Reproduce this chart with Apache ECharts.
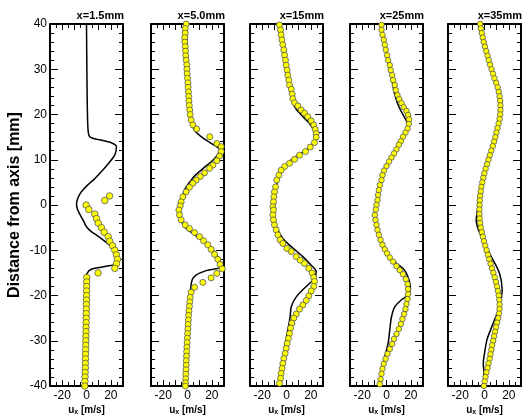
<!DOCTYPE html>
<html>
<head>
<meta charset="utf-8">
<script src="https://cdn.jsdelivr.net/npm/echarts@6/dist/echarts.min.js"></script>
<style>html,body{margin:0;padding:0;background:#fff}#chart{width:523px;height:420px}</style>
</head>
<body>
<div id="chart"></div>
<script>
// ---- data: [u_x (m/s), distance from axis (mm)] ----
const titles = ['x=1.5mm', 'x=5.0mm', 'x=15mm', 'x=25mm', 'x=35mm'];
const xTickLabels = [-20, 0, 20];

const p1Line = [[0,40],[0.3,30],[0.8,20],[1.5,16],[3,15],[11,14.4],[20,13.8],[24.6,12.9],[23.5,11.2],[20.5,10],[16,8.5],[11,7],[6,5.6],[1.3,4.5],[-3,3.3],[-5.5,2.4],[-7.5,1.2],[-8.2,0.2],[-7.5,-0.9],[-5,-2.3],[-2.5,-3.5],[0,-4.8],[4,-5.9],[8.5,-6.7],[13.6,-7.7],[20.5,-9.2],[24.6,-10.3],[25.2,-11.6],[24.6,-12.9],[15,-13.6],[4,-14.2],[0.3,-15.2],[-1,-17],[-1.4,-25],[-1.5,-40]];
const p1Pts = [[19,2],[15,1],[-0.3,0],[1.9,-1],[6.8,-2],[8.2,-3],[9.6,-4],[12.3,-5],[14.5,-6],[17.8,-7],[19.1,-8],[21.4,-9],[23.3,-10],[24.6,-11],[25.5,-12],[24.6,-13],[23.3,-14],[9.5,-15],[0.2,-16],[0.2,-17],[0.1,-18],[0.1,-19],[0,-20],[0,-21],[-0.1,-22],[-0.1,-23],[-0.2,-24],[-0.2,-25],[-0.3,-26],[-0.4,-27],[-0.4,-28],[-0.5,-29],[-0.6,-30],[-0.6,-31],[-0.7,-32],[-0.8,-33],[-0.8,-34],[-0.9,-35],[-1,-36],[-1.1,-37],[-1.2,-38],[-1.3,-39],[-1.4,-40]];

const p2Line = [[-1,40],[-0.5,35],[0.3,30],[1,25],[1.8,21],[2.8,18.8],[5.5,16.6],[11.2,15.1],[19.4,13.6],[26.3,12.2],[24.5,11],[20.8,9.9],[16,8.8],[11.2,7.7],[6.5,6.6],[3,5.5],[-2.5,3.3],[-4.6,1.1],[-6,-1.1],[-5.2,-3.3],[-2.5,-4.8],[4.4,-6.3],[10,-7.4],[15.3,-8.5],[22.2,-10.3],[25.5,-11.8],[27.7,-13.6],[15.3,-14.5],[7,-15.5],[3.8,-16.6],[2.5,-18.8],[1.1,-24.7],[-0.5,-32],[-1.9,-40]];
const p2Pts = [[-1.1,40],[-1.9,39],[-1.9,38],[-2.3,37],[-2.2,36],[-1.8,35],[-1.6,34],[-1.4,33],[-1.1,32],[-0.6,31],[-0.5,30],[-0.3,29],[0,28],[0.3,27],[0.5,26],[0.8,25],[1,24],[1.2,23],[1.5,22],[1.8,21],[2.2,20],[3,18.8],[4.4,17.7],[7.5,16.8],[18.3,15.1],[24.1,13.6],[27.7,12.9],[27.7,11.8],[26.3,10.8],[24.1,9.8],[20.8,8.8],[18.1,8.1],[14,7.1],[10.5,6.3],[7.1,5.5],[4.4,4.8],[1.6,3.9],[-1.1,2.9],[-3.8,1.8],[-5.2,0.7],[-6,-0.2],[-7.1,-1.1],[-6.6,-2.2],[-5.2,-3.3],[-1.9,-4.4],[1.6,-5.2],[5.8,-6.1],[9.9,-7],[13.2,-7.9],[16.7,-8.8],[19.4,-9.8],[22.2,-10.9],[24.9,-12],[26.8,-13.1],[28.5,-14.1],[24.1,-15.1],[19.4,-16.1],[12.6,-17.1],[5.8,-18.2],[3,-19.3],[2.2,-20.4],[1.9,-21.4],[1.6,-22.4],[1.2,-23.4],[0.9,-24.4],[0.7,-25.4],[0.5,-26.4],[0.3,-27.4],[0.1,-28.4],[-0.1,-29.4],[-0.3,-30.4],[-0.5,-31.4],[-0.7,-32.4],[-0.8,-33.4],[-1,-34.4],[-1.1,-35.4],[-1.2,-36.4],[-1.4,-37.4],[-1.5,-38.4],[-1.6,-39.3],[-1.7,-40]];

const p3Line = [[-5.5,40],[-3,34.3],[1.1,28.4],[3.9,24.7],[6.6,21.7],[12.1,19.9],[18.9,18],[23,16.2],[24.4,15.1],[21.6,13.6],[16.2,12.2],[9.3,11],[2.5,9.6],[-3,7.7],[-7.1,5.5],[-9,2.6],[-9.9,-1.1],[-9.9,-3.3],[-7.1,-5.5],[-3,-7.4],[3.9,-9.2],[13.4,-11.4],[20.3,-13.3],[24.4,-14.7],[23,-16.2],[16.2,-18],[8,-20.3],[3.9,-22.5],[3,-24.7],[1.1,-27.6],[-1.6,-32],[-4.4,-39.4],[-4.8,-40]];
const p3Pts = [[-5.8,39.8],[-4.9,38.7],[-4.4,37.6],[-3.8,36.5],[-3,35.4],[-2.2,34.3],[-1.6,33.1],[-0.8,32],[-0.3,30.9],[0.5,29.8],[1.1,28.7],[1.9,27.6],[2.5,26.5],[3.9,25.6],[4.7,24.5],[5.2,23.5],[6.6,22.6],[9.3,21.9],[12.1,21],[14.8,20.3],[17.5,19.5],[20.3,18.6],[22.4,17.7],[23.6,16.7],[24.4,15.8],[24.4,15],[23,13.8],[19.5,12.8],[15.6,11.8],[10.7,11],[6.6,10.1],[2.5,9.2],[-1.6,8.5],[-4.4,7.7],[-6.3,6.6],[-8,5.5],[-9,4],[-9.9,2.9],[-10.4,1.8],[-10.7,0.7],[-11.2,-0.4],[-10.7,-1.1],[-11.2,-2.2],[-10.7,-3.3],[-9.9,-4.4],[-8.5,-5.5],[-7.1,-6.6],[-5.2,-7.7],[-3,-8.5],[0.3,-9.6],[3.9,-10.3],[8,-11.4],[11.3,-12.2],[14.8,-12.9],[18.3,-14],[21.1,-15],[22.4,-16],[23,-16.9],[22.4,-18],[20.3,-19],[18.3,-20.1],[16.2,-21.1],[13.4,-22.1],[10.7,-23],[8,-24.1],[6,-25],[4.4,-26.1],[3.3,-27.2],[2.5,-28.4],[1.6,-29.5],[0.5,-30.6],[-0.3,-31.7],[-1.1,-32.8],[-2.2,-33.9],[-3,-35],[-3.6,-36.1],[-4.4,-37.2],[-4.9,-38.3],[-5.8,-39.4]];

const p4Line = [[-4.1,40],[-2,36.5],[0.5,33],[2.7,30.9],[4.2,28.7],[5,26.9],[6.5,24.7],[9,22.5],[11.5,21],[14.5,19.5],[17,18],[16.8,16.6],[13.6,15],[10,13.3],[6.2,11.4],[2.1,9.6],[-2,7.6],[-4.1,5.5],[-6.3,3.3],[-7.4,1.1],[-8.8,-1],[-9.6,-2.2],[-9,-3.3],[-7.4,-5.5],[-4.9,-7.7],[-1.4,-9.8],[2.7,-11.6],[8.2,-12.9],[14.8,-14.4],[18.6,-16.6],[19.7,-18.4],[17.7,-19.9],[12.1,-21],[6.8,-22.5],[4.1,-24.7],[2.7,-27.6],[1.3,-30.6],[-1.4,-33.5],[-3.3,-36.5],[-5.5,-39.6],[-5.8,-40]];
const p4Pts = [[-4.1,39.8],[-4.1,38.7],[-3.3,37.6],[-2.2,36.5],[-1.4,35.4],[-0.6,34.3],[0.5,33.1],[1.3,32],[2.7,30.9],[3.5,29.8],[4.6,28.7],[5.4,27.6],[6.8,26.5],[7.6,25.4],[9,24.3],[10.4,23.4],[12.3,22.5],[14.2,21.6],[16.4,20.8],[17.7,19.9],[18.6,18.9],[18.3,17.9],[17.3,16.9],[15.6,16],[13.6,15.1],[11.8,14.1],[10.1,13.3],[8.2,12.3],[6.2,11.4],[4.1,10.5],[2.1,9.6],[0,8.6],[-2,7.6],[-3.3,6.6],[-4.1,5.5],[-5.5,4.4],[-6.3,3.3],[-6.9,2.2],[-7.4,1.1],[-8.2,0],[-8.8,-1],[-9.6,-2.2],[-9,-3.3],[-8.2,-4.4],[-7.4,-5.5],[-6.3,-6.6],[-4.9,-7.7],[-3.3,-8.8],[-1.4,-9.8],[0.5,-10.7],[2.7,-11.6],[5.4,-12.5],[8.2,-13.5],[10.9,-14.4],[13.6,-15.3],[15.9,-16.4],[17.3,-17.5],[17.7,-18.6],[17.7,-19.7],[17.3,-20.8],[16.4,-21.9],[15.6,-23],[14.5,-24.1],[13.1,-25.2],[11.8,-26.3],[10.1,-27.4],[8.2,-28.5],[6.2,-29.6],[4.6,-30.7],[2.7,-31.8],[0.8,-32.9],[-0.8,-34],[-2.2,-35.1],[-3.3,-36.2],[-4.1,-37.3],[-4.9,-38.5],[-5.5,-39.6]];

const p5Line = [[-3.8,40],[0,35.5],[5,31],[9.5,27],[12.5,24],[13.5,21.5],[12.5,18.5],[10,15.5],[7,13],[4.2,11.2],[1.5,9],[-2,6],[-4.5,2.5],[-5.5,-0.5],[-6.8,-3.3],[-5,-5.5],[-1.4,-7.7],[5.5,-11.4],[12.3,-15.1],[14.5,-18.8],[12.3,-22.5],[8.2,-25.4],[5,-27.6],[2,-29.8],[0,-32.8],[-1,-35],[-0.5,-37],[-1,-40]];
const p5Pts = [[-3.5,40],[-3,39],[-2.2,38],[-1.4,37],[-0.6,36],[0.4,35],[1.4,34],[2.5,33],[3.5,32],[4.6,31],[5.8,30],[7,29],[8.2,28],[9.6,27],[10.8,26],[11.7,25],[12.4,24],[12.9,23],[13.1,22],[13.1,21],[12.9,20],[12.4,19],[11.6,18],[10.7,17],[9.8,16],[8.9,15],[7.9,14],[6.8,13],[5.6,12],[4.4,11],[3.2,10],[2.1,9],[0.9,8],[-0.1,7],[-1,6],[-1.8,5],[-2.6,4],[-3.1,3],[-3.6,2],[-3.9,1],[-4.1,0],[-4.2,-1],[-4.2,-2],[-4,-3],[-3.6,-4],[-3,-5],[-2.2,-6],[-1.3,-7],[-0.4,-8],[0.6,-9],[1.7,-10],[2.8,-11],[3.9,-12],[5,-13],[6.1,-14],[7.3,-15],[8.4,-16],[9.4,-17],[10.3,-18],[11,-19],[11.7,-20],[12.2,-21],[12.4,-22],[12.3,-23],[11.9,-24],[11.2,-25],[10.3,-26],[9.5,-27],[8.7,-28],[7.9,-29],[7.1,-30],[6.3,-31],[5.6,-32],[4.9,-33],[4.2,-34],[3.3,-35],[2.5,-36],[1.6,-37],[0.8,-38],[0.1,-39],[-0.5,-40]];

const lines = [p1Line, p2Line, p3Line, p4Line, p5Line];
const points = [p1Pts, p2Pts, p3Pts, p4Pts, p5Pts];

// ---- layout ----
const FONT = 'Liberation Sans, Arial, Helvetica, sans-serif';
const panelLefts = [50, 151, 250, 350, 448];
const panelW = 73, panelTop = 24, panelH = 362;
const symSizes = [6.5, 6, 6, 5.5, 5.5];

function axLine() { return {show: true, onZero: false, lineStyle: {color: '#000', width: 2}}; }
function mkTick(len) { return {show: true, inside: true, length: len, lineStyle: {color: '#000', width: 1}}; }
function mkMinor(n, len) { return {show: true, splitNumber: n, length: len, lineStyle: {color: '#000', width: 1}}; }

function buildOption() {
  const grids = [], xAxes = [], yAxes = [], ser = [], titleArr = [];
  panelLefts.forEach((l, i) => {
    grids.push({left: l, top: panelTop, width: panelW, height: panelH, outerBoundsMode: 'none'});
    xAxes.push({
      gridIndex: i, type: 'value', min: -30, max: 30, interval: 10, position: 'bottom',
      axisLine: axLine(), splitLine: {show: false}, axisTick: mkTick(6), minorTick: mkMinor(2, 4),
      axisLabel: {show: true, color: '#000', fontSize: 12, fontFamily: FONT, margin: 4, hideOverlap: false,
        formatter: v => xTickLabels.indexOf(v) >= 0 ? String(v) : ''},
      name: '{b|u}{s|x}{b| [m/s]}', nameLocation: 'middle', nameGap: 18, nameMoveOverlap: false,
      nameTextStyle: {rich: {
        b: {fontSize: 10, fontWeight: 'bold', fontFamily: FONT, color: '#000'},
        s: {fontSize: 7, fontWeight: 'bold', fontFamily: FONT, color: '#000', padding: [5, 0, 0, 0]}
      }}
    });
    xAxes.push({
      gridIndex: i, type: 'value', min: -30, max: 30, interval: 10, position: 'top',
      axisLine: axLine(), splitLine: {show: false}, axisTick: mkTick(6), minorTick: mkMinor(2, 4),
      axisLabel: {show: false}
    });
    yAxes.push({
      gridIndex: i, type: 'value', min: -40, max: 40, interval: 10, position: 'left',
      axisLine: axLine(), splitLine: {show: false}, axisTick: mkTick(8), minorTick: mkMinor(5, 4),
      axisLabel: {show: i === 0, color: '#000', fontSize: 12, fontFamily: FONT, margin: 3, hideOverlap: false}
    });
    yAxes.push({
      gridIndex: i, type: 'value', min: -40, max: 40, interval: 10, position: 'right',
      axisLine: axLine(), splitLine: {show: false}, axisTick: mkTick(8), minorTick: mkMinor(5, 4),
      axisLabel: {show: false}
    });
    ser.push({
      type: 'line', xAxisIndex: 2 * i, yAxisIndex: 2 * i, data: lines[i],
      smooth: 0.35, showSymbol: false, symbol: 'none',
      lineStyle: {color: '#000', width: 1.5}, z: 2, silent: true
    });
    ser.push({
      type: 'scatter', xAxisIndex: 2 * i, yAxisIndex: 2 * i, data: points[i],
      symbol: 'circle', symbolSize: symSizes[i],
      itemStyle: {color: '#ffff00', borderColor: '#555', borderWidth: 0.8, opacity: 1}, z: 3
    });
    titleArr.push({
      text: titles[i], right: 523 - (l + panelW) - 1, top: 10, padding: 0,
      textStyle: {fontSize: 11, fontWeight: 'bold', fontFamily: FONT, color: '#000'}
    });
  });
  return {
    animation: false,
    backgroundColor: '#fff',
    title: titleArr,
    grid: grids,
    xAxis: xAxes,
    yAxis: yAxes,
    series: ser,
    graphic: [{
      type: 'text', x: 15, y: 205, rotation: Math.PI / 2,
      style: {text: 'Distance from axis [mm]', font: 'bold 16px ' + FONT, fill: '#000',
        textAlign: 'center', textVerticalAlign: 'middle'}
    }]
  };
}

const myChart = echarts.init(document.getElementById('chart'));
myChart.setOption(buildOption());
</script>
</body>
</html>
